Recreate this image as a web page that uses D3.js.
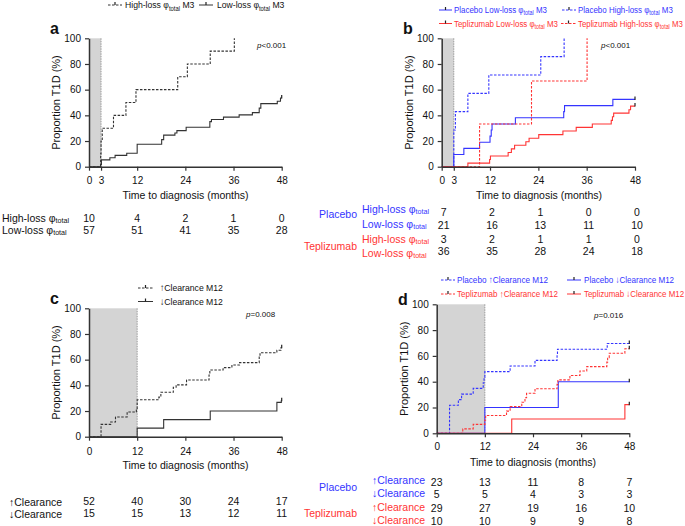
<!DOCTYPE html>
<html><head><meta charset="utf-8">
<script src="https://cdn.jsdelivr.net/npm/d3@7"></script>
<style>body{margin:0;background:#fff} text{font-family:"Liberation Sans",Arial,sans-serif}</style>
</head><body><svg id="c" width="685" height="526"></svg>
<script>
// ---------- data ----------
const yTicks = [0,20,40,60,80,100];
const xTicksAB = [0,3,12,24,36,48];
const xTicksCD = [0,12,24,36,48];
const riskTimes = [0,12,24,36,48];

// panel a  [month, cumulative %]
const aHighLoss = [[2.9,10],[3.0,20],[3.3,30],[6.1,40],[9.2,50],[11.7,60],[22.1,70],[24.5,80],[30.2,90],[36.2,100]];
const aLowLoss  = [[2.9,1.8],[3.1,5.3],[5.2,7.0],[6.5,8.8],[9.4,10.5],[12.0,17.5],[18.1,21.1],[18.6,24.6],[21.4,26.3],[21.9,28.1],[24.2,30.7],[30.1,35.1],[30.5,36.8],[33.5,38.6],[37.4,40.4],[40.7,42.1],[42.4,45.6],[42.8,49.1],[46.9,51.0],[47.7,53.5]];
const aRiskHigh = [10,4,2,1,0];
const aRiskLow  = [57,51,41,35,28];

// panel b
const bPlaceboHigh = [[3.0,28.6],[3.4,42.9],[6.5,57.1],[11.7,71.4],[24.6,85.7],[30.4,100]];
const bPlaceboLow  = [[3.0,9.5],[5.5,14.3],[9.4,19.0],[12.0,23.8],[12.3,28.6],[12.5,33.3],[18.3,38.1],[30.3,42.9],[30.5,47.6],[42.5,52.4]];
const bTepHigh = [[9.4,33.3],[22.3,66.7],[36.1,100]];
const bTepLow  = [[6.5,2.8],[11.9,5.6],[12.1,8.3],[16.5,11.1],[17.3,13.9],[18.1,16.7],[20.9,19.4],[21.7,22.2],[24.1,25.0],[30.1,27.8],[33.4,30.6],[37.4,33.3],[42.1,36.1],[42.4,38.9],[42.7,41.7],[46.5,44.4],[46.9,47.2]];
const bRiskPlaceboHigh = [7,2,1,0,0];
const bRiskPlaceboLow  = [21,16,13,11,10];
const bRiskTepHigh = [3,2,1,1,0];
const bRiskTepLow  = [36,35,28,24,18];

// panel c
const cUpClear = [[3.0,9.6],[5.4,11.5],[6.6,15.4],[9.5,19.2],[11.8,21.2],[12.0,28.8],[17.4,30.8],[17.9,34.6],[21.0,38.5],[21.7,40.4],[24.3,44.2],[29.9,48.1],[30.1,51.9],[33.4,53.8],[35.6,55.8],[37.5,57.7],[42.4,63.5],[42.6,65.4],[46.8,67.3],[47.8,69.2]];
const cDownClear = [[12.0,6.7],[18.6,13.3],[30.2,20.0],[46.8,26.7],[47.9,28.0]];
const cRiskUp = [52,40,30,24,17];
const cRiskDown = [15,15,13,12,11];

// panel d
const dPlaceboUp = [[3.2,21.7],[5.4,26.1],[6.2,30.4],[9.1,34.8],[11.6,39.1],[11.8,43.5],[12.0,47.8],[18.3,52.2],[24.5,56.5],[30.0,60.9],[30.1,65.2],[42.5,69.6]];
const dPlaceboDown = [[12.0,20],[30.3,40]];
const dTepUp = [[6.5,3.4],[9.1,6.9],[12.0,10.3],[12.2,13.8],[17.4,17.2],[18.3,20.7],[21.2,24.1],[22.0,27.6],[22.4,31.0],[24.5,34.5],[30.0,37.9],[30.2,41.4],[33.2,44.8],[35.7,48.3],[37.4,51.7],[42.4,55.2],[42.6,58.6],[43.0,62.1],[46.9,65.5]];
const dTepDown = [[18.7,11.1],[46.9,22.2]];
const dRiskPlaceboUp = [23,13,11,8,7];
const dRiskPlaceboDown = [5,5,4,3,3];
const dRiskTepUp = [29,27,19,16,10];
const dRiskTepDown = [10,10,9,9,8];

// ---------- drawing ----------
const BLUE = "#3434ff", RED = "#ff3434", BLACK = "#333";
const svg = d3.select("#c");
const FONT = "Liberation Sans, Arial, sans-serif";

function txt(x, y, s, opt={}) {
  return svg.append("text").attr("x", x).attr("y", y).text(s)
    .attr("font-size", opt.size || 10).attr("fill", opt.color || "#111")
    .attr("text-anchor", opt.anchor || "start")
    .attr("dominant-baseline", "central")
    .attr("font-weight", opt.weight || "normal")
    .attr("font-style", opt.style || "normal");
}
function phiText(x, y, pre, post, opt={}) {
  const size = opt.size || 10;
  const t = svg.append("text").attr("x", x).attr("y", y)
    .attr("font-size", size).attr("fill", opt.color || "#111")
    .attr("text-anchor", opt.anchor || "start").attr("dominant-baseline", "central");
  t.append("tspan").text(pre + "\u03C6");
  t.append("tspan").text("total").attr("font-size", size*0.68).attr("dy", size*0.3);
  if (post) t.append("tspan").text(post).attr("dy", -size*0.3);
  return t;
}
// squeeze a start-anchored text horizontally so it spans width w from x
function fit(sel, x, w) {
  const bw = sel.node().getBBox().width;
  const s = w / bw;
  sel.attr("transform", `translate(${x*(1-s)},0) scale(${s},1)`);
  return sel;
}

function panel(p) {
  const x = d3.scaleLinear().domain([0,48]).range([p.x0, p.x1]);
  const y = d3.scaleLinear().domain([0,100]).range([p.yb, p.yt]);
  const g = svg.append("g");
  g.append("rect").attr("x", x(0)).attr("y", y(100))
    .attr("width", x(p.shade) - x(0)).attr("height", y(0) - y(100)).attr("fill", "#d4d4d4");
  g.append("line").attr("x1", x(p.shade)).attr("x2", x(p.shade)).attr("y1", y(100)).attr("y2", y(0))
    .attr("stroke", "#888").attr("stroke-width", 0.8).attr("stroke-dasharray", "1.5,1");
  const line = d3.line().x(d => x(d[0])).y(d => y(d[1])).curve(d3.curveStepAfter);
  p.series.forEach(s => {
    const last = s.data[s.data.length-1];
    const end = last[1] >= 100 ? last[0] : 48;
    const pts = [[0,0], ...s.data, [end, last[1]]];
    g.append("path").attr("d", line(pts)).attr("fill", "none")
      .attr("stroke", s.color).attr("stroke-width", 1.1)
      .attr("stroke-dasharray", s.dash ? "2.5,1.5" : null);
    if (last[1] < 100) {
      g.append("line").attr("x1", x(48)).attr("x2", x(48))
        .attr("y1", y(last[1]) - 3).attr("y2", y(last[1]) + 0.5)
        .attr("stroke", "#222").attr("stroke-width", 1.2);
    }
  });
  const ax = g.append("g").attr("transform", `translate(0,${p.yb})`)
    .call(d3.axisBottom(x).tickValues(p.xticks).tickSize(4).tickSizeOuter(0).tickPadding(p.xpad));
  const ay = g.append("g").attr("transform", `translate(${p.x0},0)`)
    .call(d3.axisLeft(y).tickValues(yTicks).tickSize(4).tickSizeOuter(0).tickPadding(4));
  [ax, ay].forEach(a => {
    a.select(".domain").attr("stroke", BLACK).attr("stroke-width", 1.5);
    a.selectAll(".tick line").attr("stroke", BLACK).attr("stroke-width", 1.2);
    a.selectAll("text").attr("font-size", 10).attr("font-family", FONT).attr("fill", "#111");
  });
  txt(p.xtitleX, p.xtitleY, "Time to diagnosis (months)", {size: 10.5, anchor: "middle"});
  svg.append("text").attr("transform", `translate(${p.ytitleX},${(p.yt+p.yb)/2}) rotate(-90)`)
    .attr("text-anchor", "middle").attr("dominant-baseline", "central")
    .attr("font-size", 11).attr("fill", "#111").text("Proportion T1D (%)");
  svg.append("text").attr("x", p.letterX).attr("y", p.letterY).text(p.letter)
    .attr("font-size", 16).attr("font-weight", "bold").attr("fill", "#111");
  const pt = svg.append("text").attr("x", p.pX).attr("y", p.pY).attr("font-size", 8)
    .attr("dominant-baseline", "central").attr("fill", "#111");
  pt.append("tspan").text("p").attr("font-style", "italic");
  pt.append("tspan").text(p.ptext);
  return x;
}

function legendSample(x1, x2, y, color, dash) {
  svg.append("line").attr("x1", x1).attr("x2", x2).attr("y1", y).attr("y2", y)
    .attr("stroke", color).attr("stroke-width", 1).attr("stroke-dasharray", dash ? "2.5,1.5" : null);
  svg.append("line").attr("x1", (x1+x2)/2).attr("x2", (x1+x2)/2).attr("y1", y-3).attr("y2", y)
    .attr("stroke", "#222").attr("stroke-width", 1.2);
}

function riskRow(x, vals, y, dx=0) {
  vals.forEach((v,i) => txt(x(riskTimes[i]) + dx, y, v, {size: 10.5, anchor: "middle"}));
}

// ---- panel a ----
const xa = panel({x0:89, x1:281.7, yt:38.3, yb:166.7, xticks:xTicksAB, shade:3, xpad:6,
  series:[{data:aHighLoss, color:"#333", dash:true},{data:aLowLoss, color:"#333", dash:false}],
  xtitleX:185.5, xtitleY:195, ytitleX:56, letter:"a", letterX:50, letterY:34, pX:257, pY:45, ptext:"<0.001"});
legendSample(108, 122, 5, "#333", true);
fit(phiText(125, 5, "High-loss ", " M3", {size: 9.8}), 125, 70);
legendSample(199, 213, 5, "#333", false);
fit(phiText(217, 5, "Low-loss ", " M3", {size: 9.8}), 217, 68);
phiText(2, 218, "High-loss ", "", {size: 10.5});
phiText(2, 230, "Low-loss ", "", {size: 10.5});
riskRow(xa, aRiskHigh, 218);
riskRow(xa, aRiskLow, 230);

// ---- panel b ----
const xb = panel({x0:441.7, x1:635, yt:38.3, yb:166.7, xticks:xTicksAB, shade:3, xpad:6,
  series:[{data:bPlaceboLow, color:BLUE},{data:bPlaceboHigh, color:BLUE, dash:true},
          {data:bTepLow, color:RED},{data:bTepHigh, color:RED, dash:true}],
  xtitleX:539, xtitleY:195, ytitleX:409, letter:"b", letterX:403, letterY:34, pX:601, pY:45, ptext:"<0.001"});
legendSample(439, 452, 10, BLUE, false);
fit(phiText(454, 10, "Placebo Low-loss ", " M3", {size: 9.6, color: BLUE}), 454, 93);
legendSample(562, 576, 10, BLUE, true);
fit(phiText(578, 10, "Placebo High-loss ", " M3", {size: 9.6, color: BLUE}), 578, 95);
legendSample(439, 452, 23.5, RED, false);
fit(phiText(454, 23.5, "Teplizumab Low-loss ", " M3", {size: 9.6, color: RED}), 454, 104);
legendSample(561, 576, 23.5, RED, true);
fit(phiText(578, 23.5, "Teplizumab High-loss ", " M3", {size: 9.6, color: RED}), 578, 105);
txt(357, 214, "Placebo", {size: 10.5, color: BLUE, anchor: "end"});
txt(357, 246, "Teplizumab", {size: 10.5, color: RED, anchor: "end"});
phiText(362, 209, "High-loss ", "", {size: 10.5, color: BLUE});
phiText(362, 224, "Low-loss ", "", {size: 10.5, color: BLUE});
phiText(362, 239, "High-loss ", "", {size: 10.5, color: RED});
phiText(362, 253, "Low-loss ", "", {size: 10.5, color: RED});
riskRow(xb, bRiskPlaceboHigh, 212, 2);
riskRow(xb, bRiskPlaceboLow, 225, 2);
riskRow(xb, bRiskTepHigh, 238.5, 2);
riskRow(xb, bRiskTepLow, 251, 2);

// ---- panel c ----
const xc = panel({x0:89, x1:281.7, yt:308.3, yb:436.7, xticks:xTicksCD, shade:12, xpad:7.5,
  series:[{data:cUpClear, color:"#333", dash:true},{data:cDownClear, color:"#333"}],
  xtitleX:185.5, xtitleY:465, ytitleX:56, letter:"c", letterX:50, letterY:304, pX:246, pY:314, ptext:"=0.008"});
legendSample(138, 153, 288, "#333", true);
fit(txt(160, 288, "\u2191Clearance M12", {size: 9.8}), 160, 63);
legendSample(138, 153, 301.5, "#333", false);
fit(txt(160, 301.5, "\u2193Clearance M12", {size: 9.8}), 160, 63);
txt(9, 502, "\u2191Clearance", {size: 10.5});
txt(9, 514, "\u2193Clearance", {size: 10.5});
riskRow(xc, cRiskUp, 501);
riskRow(xc, cRiskDown, 513);

// ---- panel d ----
const xd = panel({x0:436.7, x1:629.3, yt:304.3, yb:433.3, xticks:xTicksCD, shade:12, xpad:6,
  series:[{data:dPlaceboUp, color:BLUE, dash:true},{data:dPlaceboDown, color:BLUE},
          {data:dTepUp, color:RED, dash:true},{data:dTepDown, color:RED}],
  xtitleX:533, xtitleY:462, ytitleX:404, letter:"d", letterX:398, letterY:305, pX:594, pY:315, ptext:"=0.016"});
legendSample(441, 455, 280, BLUE, true);
fit(txt(457, 280, "Placebo \u2191Clearance M12", {size: 9.4, color: BLUE}), 457, 91);
legendSample(567, 581, 280, BLUE, false);
fit(txt(584, 280, "Placebo \u2193Clearance M12", {size: 9.4, color: BLUE}), 584, 90);
legendSample(441, 455, 294, RED, true);
fit(txt(457, 294, "Teplizumab \u2191Clearance M12", {size: 9.4, color: RED}), 457, 101);
legendSample(567, 581, 294, RED, false);
fit(txt(584, 294, "Teplizumab \u2193Clearance M12", {size: 9.4, color: RED}), 584, 100);
txt(357, 487, "Placebo", {size: 10.5, color: BLUE, anchor: "end"});
txt(357, 513, "Teplizumab", {size: 10.5, color: RED, anchor: "end"});
txt(372, 480, "\u2191Clearance", {size: 10.5, color: BLUE});
txt(372, 493, "\u2193Clearance", {size: 10.5, color: BLUE});
txt(372, 507, "\u2191Clearance", {size: 10.5, color: RED});
txt(372, 520, "\u2193Clearance", {size: 10.5, color: RED});
riskRow(xd, dRiskPlaceboUp, 482);
riskRow(xd, dRiskPlaceboDown, 494);
riskRow(xd, dRiskTepUp, 508);
riskRow(xd, dRiskTepDown, 521);
</script></body></html>
